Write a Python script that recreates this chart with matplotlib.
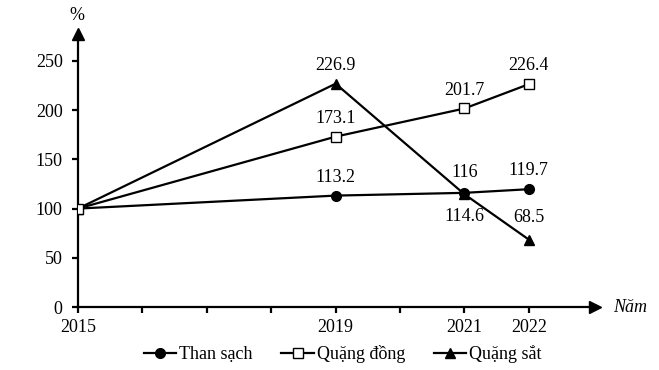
import matplotlib
matplotlib.use("Agg")
import matplotlib.pyplot as plt

plt.rcParams['font.family'] = ['Liberation Serif', 'DejaVu Serif']

years = [2015, 2019, 2021, 2022]
than_sach = [100, 113.2, 116, 119.7]
quang_dong = [100, 173.1, 201.7, 226.4]
quang_sat = [100, 226.9, 114.6, 68.5]

fig = plt.figure(figsize=(6.59, 3.70), dpi=100)
ax = fig.add_axes([78 / 659, 1 - 307 / 370, (595 - 78) / 659, (307 - 34) / 370])

ax.plot(years, than_sach, color='black', lw=1.6, marker='o', ms=7, label='Than sạch', zorder=3)
ax.plot(years, quang_dong, color='black', lw=1.6, marker='s', ms=7, mfc='white', mew=1.0,
        label='Quặng đồng', zorder=4)
ax.plot(years, quang_sat, color='black', lw=1.6, marker='^', ms=7, label='Quặng sắt', zorder=3)

ax.set_xlim(2015, 2015 + 517 / 64.4)
ax.set_ylim(0, 277.4)
for s in ['top', 'right']:
    ax.spines[s].set_visible(False)
ax.spines['left'].set_linewidth(1.6)
ax.spines['bottom'].set_linewidth(1.6)
ax.plot(1, 0, '>k', ms=8, transform=ax.transAxes, clip_on=False)
ax.plot(0, 1, '^k', ms=8, transform=ax.transAxes, clip_on=False)

ax.set_yticks([0, 50, 100, 150, 200, 250])
ax.set_xticks(range(2015, 2023))
ax.set_xticklabels(['2015', '', '', '', '2019', '', '2021', '2022'])
ax.tick_params(labelsize=13, width=1.6, length=4, direction='out')
ax.tick_params(axis='x', pad=5)
ax.tick_params(axis='y', pad=7)

fs = 13
# data labels
ax.text(2019, 226.9 + 10, '226.9', ha='center', va='bottom', fontsize=fs)
ax.text(2019, 173.1 + 10, '173.1', ha='center', va='bottom', fontsize=fs)
ax.text(2019, 113.2 + 10, '113.2', ha='center', va='bottom', fontsize=fs)
ax.text(2021, 201.7 + 10, '201.7', ha='center', va='bottom', fontsize=fs)
ax.text(2021, 116 + 12, '116', ha='center', va='bottom', fontsize=fs)
ax.text(2021, 114.6 - 14, '114.6', ha='center', va='top', fontsize=fs)
ax.text(2022, 226.4 + 10, '226.4', ha='center', va='bottom', fontsize=fs)
ax.text(2022, 119.7 + 10, '119.7', ha='center', va='bottom', fontsize=fs)
ax.text(2022, 68.5 + 14, '68.5', ha='center', va='bottom', fontsize=fs)

fig.text(77 / 659, 1 - 15 / 370, '%', ha='center', va='center', fontsize=fs)
fig.text(613 / 659, 1 - 308 / 370, 'Năm', ha='left', va='center', fontsize=fs, style='italic')

fig.legend(loc='center', bbox_to_anchor=(0.52, 1 - 354 / 370), ncol=3, frameon=False,
           fontsize=fs, handlelength=1.8, handletextpad=0.15, columnspacing=1.6)

fig.savefig('out.png', dpi=100)
